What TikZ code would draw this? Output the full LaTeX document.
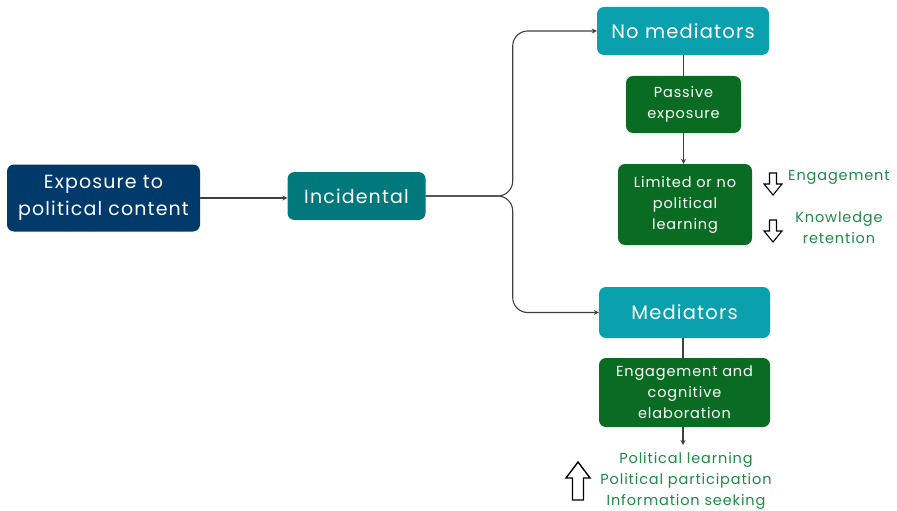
\documentclass[tikz,border=0pt]{standalone}
\usepackage{fontspec}
\setmainfont{Poppins}[LetterSpace=6]
\usetikzlibrary{arrows.meta}
\definecolor{navy}{HTML}{003A6B}
\definecolor{tealA}{HTML}{00787C}
\definecolor{tealB}{HTML}{0AA0AE}
\definecolor{dgreen}{HTML}{0A6B22}
\definecolor{lgreen}{HTML}{1F8A48}
\definecolor{linec}{HTML}{404040}
\tikzset{
  box/.style={draw=none, rounded corners=7pt, text=white, align=center, inner sep=0pt},
  conn/.style={draw=linec, line width=1.1pt, -{Stealth[length=5pt,width=5pt]}},
  plain/.style={draw=linec, line width=1.1pt},
  lab/.style={text=lgreen, align=center, inner sep=0pt, font=\fontsize{14.5}{21}\selectfont},
  downarr/.pic={\draw[line width=1.1pt, line join=miter, fill=white] (-3.5,0) -- (3.5,0) -- (3.5,11) -- (9,11) -- (0,22) -- (-9,11) -- (-3.5,11) -- cycle;},
  uparr/.pic={\draw[line width=1.4pt, line join=miter, fill=white] (-5.5,0) -- (5.5,0) -- (5.5,-22) -- (12,-22) -- (0,-38) -- (-12,-22) -- (-5.5,-22) -- cycle;}
}
\begin{document}
\begin{tikzpicture}[x=1pt,y=-1pt]
\useasboundingbox[fill=white] (0,0) rectangle (897,511);
\node[box, fill=navy, minimum width=193pt, minimum height=67pt, font=\fontsize{19}{27}\selectfont] (exp) at (103.5,198) {Exposure to\\political content};
\node[box, fill=tealA, minimum width=138pt, minimum height=48pt, font=\fontsize{19}{22}\selectfont] (inc) at (356.5,196) {Incidental};
\node[box, fill=tealB, minimum width=172pt, minimum height=48pt, font=\fontsize{19.5}{22}\selectfont] (nomed) at (683,31) {No mediators};
\node[box, fill=dgreen, minimum width=115pt, minimum height=57pt, font=\fontsize{14.5}{21}\selectfont] (pass) at (683.5,104.5) {Passive\\exposure};
\node[box, fill=dgreen, minimum width=134pt, minimum height=81pt, font=\fontsize{14.5}{21}\selectfont] (lim) at (685,204.5) {Limited or no\\political\\learning};
\node[box, fill=tealB, minimum width=171pt, minimum height=51pt, font=\fontsize{19.5}{22}\selectfont] (med) at (684.5,312.5) {Mediators};
\node[box, fill=dgreen, minimum width=171pt, minimum height=69pt, font=\fontsize{14.5}{21}\selectfont] (eng) at (684.5,392.5) {Engagement and\\cognitive\\elaboration};
\node[lab] (res) at (686,481) {Political learning\\Political participation\\Information seeking};
\coordinate (resin) at (683,445);
\node[lab, anchor=west] (engl) at (788,177) {Engagement};
\node[lab] (know) at (839,228) {Knowledge\\retention};

\draw[conn] (exp.east) -- (exp.east -| inc.west);
\draw[conn, rounded corners=15pt] (inc.east) -- ++(87,0) |- (nomed.west);
\draw[conn, rounded corners=15pt] (inc.east) -- ++(87,0) |- (med.west);
\draw[plain] (nomed.south -| pass.north) -- (pass.north);
\draw[conn] (pass.south) -- (pass.south |- lim.north);
\draw[plain] (med.south -| 683,0) -- (eng.north -| 683,0);
\draw[conn] (eng.south -| resin) -- (resin);

\pic at (773,173) {downarr};
\pic at (773,220) {downarr};
\pic at (578,500) {uparr};
\end{tikzpicture}
\end{document}
